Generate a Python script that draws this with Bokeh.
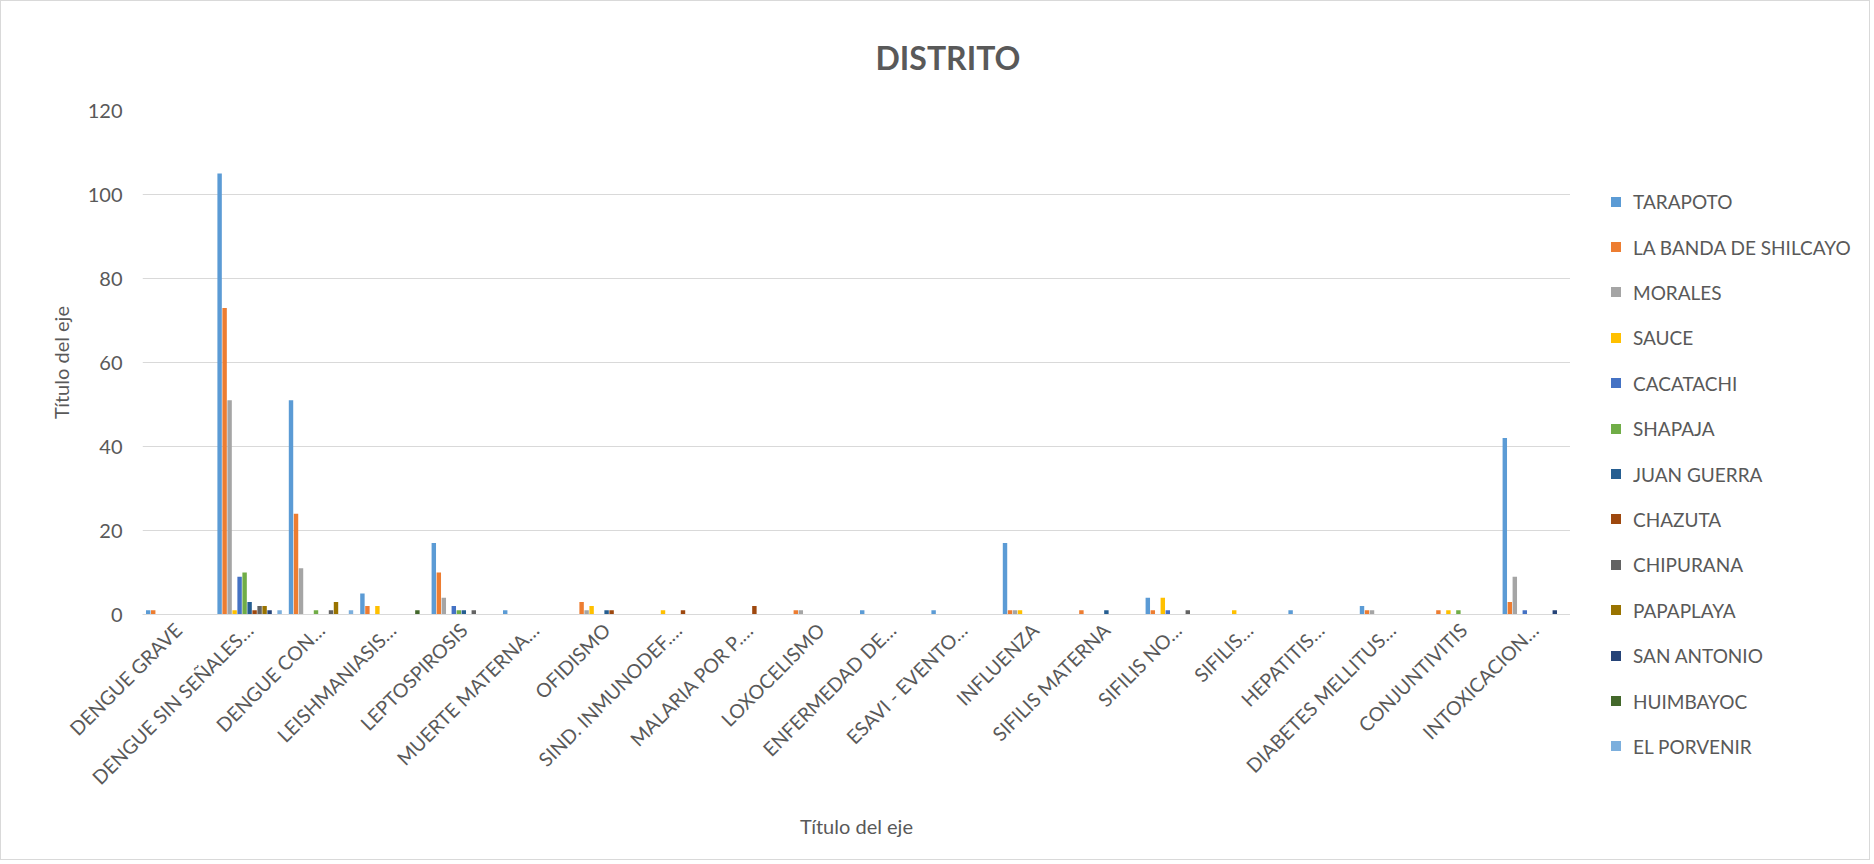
from bokeh.plotting import figure
from bokeh.layouts import row
from bokeh.models import FactorRange, Range1d, SingleIntervalTicker, Div
from bokeh.transform import dodge
from bokeh.embed import file_html
from bokeh.resources import INLINE

categories = ["DENGUE GRAVE", "DENGUE SIN SEÑALES…", "DENGUE CON…", "LEISHMANIASIS…",
              "LEPTOSPIROSIS", "MUERTE MATERNA…", "OFIDISMO", "SIND. INMUNODEF.…",
              "MALARIA POR P.…", "LOXOCELISMO", "ENFERMEDAD DE…", "ESAVI - EVENTO…",
              "INFLUENZA", "SIFILIS MATERNA", "SIFILIS NO…", "SIFILIS…", "HEPATITIS…",
              "DIABETES MELLITUS…", "CONJUNTIVITIS", "INTOXICACION…"]

series_names = ["TARAPOTO", "LA BANDA DE SHILCAYO", "MORALES", "SAUCE", "CACATACHI",
                "SHAPAJA", "JUAN GUERRA", "CHAZUTA", "CHIPURANA", "PAPAPLAYA",
                "SAN ANTONIO", "HUIMBAYOC", "EL PORVENIR"]

tarapoto    = [1, 105, 51, 5, 17, 1, 0, 0, 0, 0, 1, 1, 17, 0, 4, 0, 1, 2, 0, 42]
la_banda    = [1, 73, 24, 2, 10, 0, 3, 0, 0, 1, 0, 0, 1, 1, 1, 0, 0, 1, 1, 3]
morales     = [0, 51, 11, 0, 4, 0, 1, 0, 0, 1, 0, 0, 1, 0, 0, 0, 0, 1, 0, 9]
sauce       = [0, 1, 0, 2, 0, 0, 2, 1, 0, 0, 0, 0, 1, 0, 4, 1, 0, 0, 1, 0]
cacatachi   = [0, 9, 0, 0, 2, 0, 0, 0, 0, 0, 0, 0, 0, 0, 1, 0, 0, 0, 0, 1]
shapaja     = [0, 10, 1, 0, 1, 0, 0, 0, 0, 0, 0, 0, 0, 0, 0, 0, 0, 0, 1, 0]
juan_guerra = [0, 3, 0, 0, 1, 0, 1, 0, 0, 0, 0, 0, 0, 1, 0, 0, 0, 0, 0, 0]
chazuta     = [0, 1, 0, 0, 0, 0, 1, 1, 2, 0, 0, 0, 0, 0, 0, 0, 0, 0, 0, 0]
chipurana   = [0, 2, 1, 0, 1, 0, 0, 0, 0, 0, 0, 0, 0, 0, 1, 0, 0, 0, 0, 0]
papaplaya   = [0, 2, 3, 0, 0, 0, 0, 0, 0, 0, 0, 0, 0, 0, 0, 0, 0, 0, 0, 0]
san_antonio = [0, 1, 0, 0, 0, 0, 0, 0, 0, 0, 0, 0, 0, 0, 0, 0, 0, 0, 0, 1]
huimbayoc   = [0, 0, 0, 1, 0, 0, 0, 0, 0, 0, 0, 0, 0, 0, 0, 0, 0, 0, 0, 0]
el_porvenir = [0, 1, 1, 0, 0, 0, 0, 0, 0, 0, 0, 0, 0, 0, 0, 0, 0, 0, 0, 0]

series_values = [tarapoto, la_banda, morales, sauce, cacatachi, shapaja, juan_guerra,
                 chazuta, chipurana, papaplaya, san_antonio, huimbayoc, el_porvenir]

colors = ["#5B9BD5", "#ED7D31", "#A5A5A5", "#FFC000", "#4472C4", "#70AD47", "#255E91",
          "#9E480E", "#636363", "#997300", "#264478", "#43682B", "#7CAFDD"]

FONT = "Lato"
TXT = "#595959"

fig = figure(width=1569, height=848, x_range=FactorRange(factors=categories),
             y_range=Range1d(0, 120), output_backend="svg", toolbar_location=None,
             min_border_left=141, min_border_right=0, min_border_top=107,
             min_border_bottom=235)

data = {"cat": categories}
for name, vals in zip(series_names, series_values):
    data[name] = vals

step = 0.07
for i, (name, col) in enumerate(zip(series_names, colors)):
    fig.vbar(x=dodge("cat", (i - 6) * step, range=fig.x_range), top=name, width=0.062,
             source=data, fill_color=col, line_color=None)

fig.title.text = "DISTRITO"
fig.title.align = "left"
fig.title.offset = 733
fig.title.text_font = FONT
fig.title.text_font_size = "32px"
fig.title.text_font_style = "bold"
fig.title.text_color = TXT
fig.title.standoff = 68

fig.outline_line_color = None
fig.xgrid.grid_line_color = None
fig.ygrid.grid_line_color = "#D9D9D9"
fig.ygrid.grid_line_width = 1

fig.yaxis.ticker = SingleIntervalTicker(interval=20)
fig.yaxis.axis_line_color = None
fig.yaxis.major_tick_line_color = None
fig.yaxis.minor_tick_line_color = None
fig.yaxis.major_label_text_font = FONT
fig.yaxis.major_label_text_font_size = "20px"
fig.yaxis.major_label_text_color = TXT
fig.yaxis.major_label_standoff = 14
fig.yaxis.axis_label = "Título del eje"
fig.yaxis.axis_label_text_font = FONT
fig.yaxis.axis_label_text_font_size = "20px"
fig.yaxis.axis_label_text_font_style = "normal"
fig.yaxis.axis_label_text_color = TXT
fig.yaxis.axis_label_standoff = 12

fig.xaxis.axis_line_color = "#D9D9D9"
fig.xaxis.major_tick_line_color = None
fig.xaxis.minor_tick_line_color = None
fig.xaxis.major_label_orientation = 0.785398
fig.xaxis.major_label_text_font = FONT
fig.xaxis.major_label_text_font_size = "19.5px"
fig.xaxis.major_label_text_color = TXT
fig.xaxis.major_label_standoff = 6
fig.xaxis.axis_label = "Título del eje"
fig.xaxis.axis_label_text_font = FONT
fig.xaxis.axis_label_text_font_size = "20px"
fig.xaxis.axis_label_text_font_style = "normal"
fig.xaxis.axis_label_text_color = TXT
fig.xaxis.axis_label_standoff = 14

# legend as real HTML text beside the plot (series names and colours from the lists above)
item_html = []
for i, (name, col) in enumerate(zip(series_names, colors)):
    top = 184.1 + i * 45.4
    item_html.append(
        f'<div style="position:absolute;left:36px;top:{top:.1f}px;height:23px;'
        f'display:flex;align-items:center;white-space:nowrap;">'
        f'<span style="display:inline-block;width:10px;height:10px;background:{col};'
        f'margin-right:12px;"></span><span>{name}</span></div>'
    )
legend_html = (
    f'<div style="position:relative;width:289px;height:848px;font-family:{FONT};'
    f'font-size:19px;color:{TXT};line-height:23px;">' + "".join(item_html) + '</div>'
)
legend_div = Div(text=legend_html, width=289, height=848)

p = row(fig, legend_div, spacing=0)
p.styles = {"border": "1px solid #D9D9D9"}

open("out.html", "w").write(file_html(p, INLINE))
